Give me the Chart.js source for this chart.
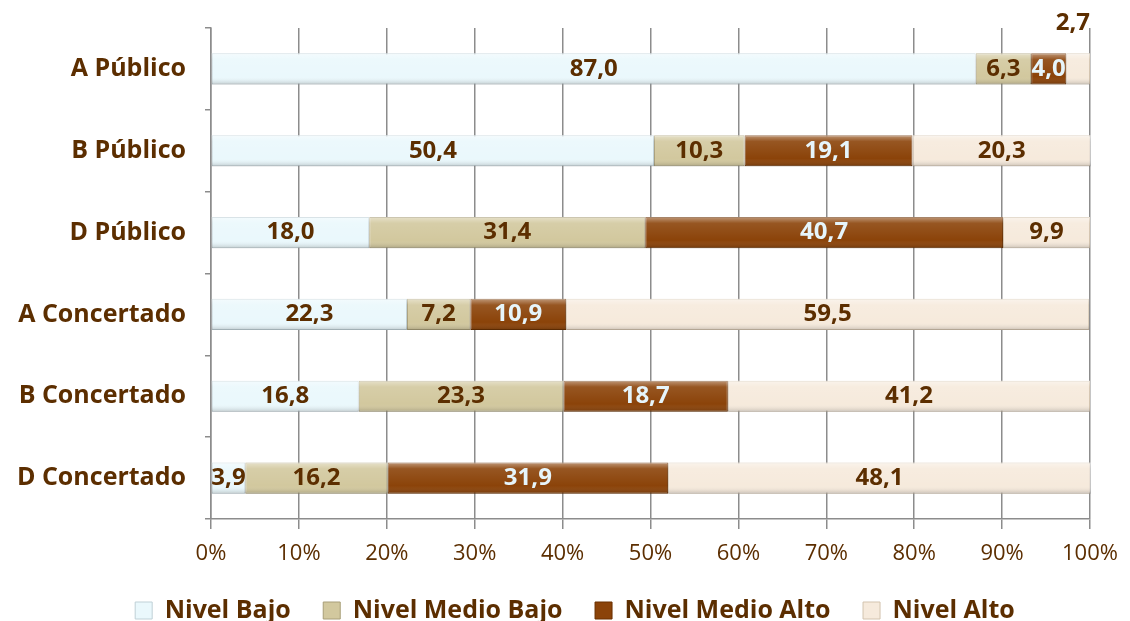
<!DOCTYPE html>
<html>
<head>
<meta charset="utf-8">
<script src="https://cdn.jsdelivr.net/npm/chart.js@4.4.1/dist/chart.umd.min.js"></script>
<style>
  html, body { margin: 0; padding: 0; background: #fff; }
  #wrap { width: 1130px; height: 621px; }
</style>
</head>
<body>
<div id="wrap"><canvas id="chart" width="1130" height="621"></canvas></div>
<script>
const categories = ['A Público', 'B Público', 'D Público', 'A Concertado', 'B Concertado', 'D Concertado'];
const nivelBajo = [87.0, 50.4, 18.0, 22.3, 16.8, 3.9];
const nivelMedioBajo = [6.3, 10.3, 31.4, 7.2, 23.3, 16.2];
const nivelMedioAlto = [4.0, 19.1, 40.7, 10.9, 18.7, 31.9];
const nivelAlto = [2.7, 20.3, 9.9, 59.5, 41.2, 48.1];
const xTicks = [0, 10, 20, 30, 40, 50, 60, 70, 80, 90, 100];

const brown = '#5c2e00';
const fontName = '"Open Sans", Lato, sans-serif';
const gap = '     ';

// brillo y sombra sobre cada barra, para imitar el relieve
const bevel = {
    id: 'bevel',
    afterDatasetsDraw(chart) {
        const ctx = chart.ctx;
        ctx.save();
        chart.data.datasets.forEach((ds, i) => {
            chart.getDatasetMeta(i).data.forEach(bar => {
                const top = bar.y - bar.height / 2;
                const left = Math.min(bar.x, bar.base);
                const w = Math.abs(bar.x - bar.base);
                const g = ctx.createLinearGradient(0, top, 0, top + bar.height);
                g.addColorStop(0, 'rgba(255,255,255,0.45)');
                g.addColorStop(0.2, 'rgba(255,255,255,0.1)');
                g.addColorStop(0.75, 'rgba(255,255,255,0)');
                g.addColorStop(1, 'rgba(0,0,0,0.18)');
                ctx.fillStyle = g;
                ctx.fillRect(left, top, w, bar.height);
            });
        });
        ctx.restore();
    }
};

// etiquetas de valor dentro de cada segmento
const valueLabels = {
    id: 'valueLabels',
    afterDatasetsDraw(chart) {
        const ctx = chart.ctx;
        ctx.save();
        ctx.font = 'bold 24px ' + fontName;
        ctx.textBaseline = 'middle';
        chart.data.datasets.forEach((ds, i) => {
            const meta = chart.getDatasetMeta(i);
            meta.data.forEach((bar, j) => {
                const v = ds.data[j];
                const txt = v.toFixed(1).replace('.', ',');
                ctx.fillStyle = ds.labelColor;
                if (v < 3) {
                    ctx.textAlign = 'right';
                    ctx.fillText(txt, bar.x, bar.y - 46);
                } else {
                    ctx.textAlign = 'center';
                    ctx.fillText(txt, (bar.x + bar.base) / 2, bar.y);
                }
            });
        });
        ctx.restore();
    }
};

// la leyenda del original está algo desplazada a la derecha
const legendShift = {
    id: 'legendShift',
    afterLayout(chart) {
        chart.legend.left += 60;
    }
};

function makeSet(label, data, fill, border, labelColor) {
    return {
        label: label,
        data: data,
        backgroundColor: fill,
        borderColor: border,
        borderWidth: 1,
        borderSkipped: false,
        labelColor: labelColor,
        barPercentage: 0.38,
        categoryPercentage: 1
    };
}

new Chart(document.getElementById('chart'), {
    type: 'bar',
    data: {
        labels: categories,
        datasets: [
            makeSet('Nivel Bajo' + gap, nivelBajo, '#eaf8fc', '#bfd0d6', brown),
            makeSet('Nivel Medio Bajo' + gap, nivelMedioBajo, '#d2c89e', '#a89e78', brown),
            makeSet('Nivel Medio Alto' + gap, nivelMedioAlto, '#8b4309', '#6a3000', '#e6f5fb'),
            makeSet('Nivel Alto', nivelAlto, '#f6eadc', '#d3c3ae', brown)
        ]
    },
    options: {
        indexAxis: 'y',
        responsive: false,
        animation: false,
        layout: { padding: { top: 28, right: 40, left: 0, bottom: -12 } },
        scales: {
            x: {
                stacked: true,
                min: 0,
                max: 100,
                afterBuildTicks: scale => { scale.ticks = xTicks.map(v => ({ value: v })); },
                afterFit: scale => { scale.height = 79; },
                grid: { color: '#8c8c8c', lineWidth: 1.5, tickLength: 10 },
                border: { color: '#8c8c8c', width: 1.5 },
                ticks: {
                    padding: 12,
                    color: brown,
                    font: { family: fontName, size: 22 },
                    callback: v => v + '%'
                }
            },
            y: {
                stacked: true,
                afterFit: scale => {
                    scale.width = 211;
                    scale.paddingTop = 0;
                    scale.paddingBottom = 0;
                },
                grid: { drawOnChartArea: false, offset: true, color: '#8c8c8c', lineWidth: 1.5, tickLength: 6 },
                border: { color: '#8c8c8c', width: 1.5 },
                ticks: {
                    padding: 19,
                    color: brown,
                    font: { family: fontName, size: 25, weight: 'bold' }
                }
            }
        },
        plugins: {
            legend: {
                position: 'bottom',
                labels: {
                    color: brown,
                    boxWidth: 17,
                    boxHeight: 17,
                    padding: 0,
                    font: { family: fontName, size: 25, weight: 'bold' }
                }
            },
            tooltip: { enabled: false }
        }
    },
    plugins: [bevel, valueLabels, legendShift]
});
</script>
</body>
</html>
